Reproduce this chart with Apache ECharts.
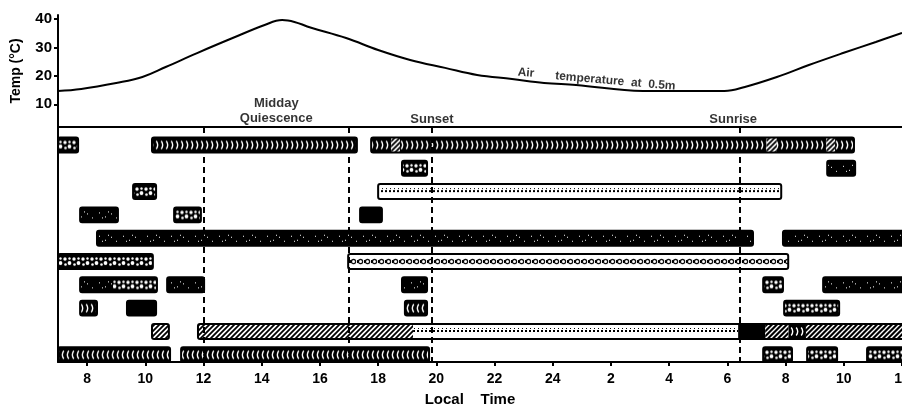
<!DOCTYPE html>
<html>
<head>
<meta charset="utf-8">
<script src="https://cdn.jsdelivr.net/npm/echarts@6/dist/echarts.min.js"></script>
<style>
  html, body { margin: 0; padding: 0; background: #fff; }
  #chart { width: 902px; height: 406px; }
</style>
</head>
<body>
<div id="chart"></div>
<script>
// air temperature at 0.5 m (hours counted from midnight of the first day)
const tempHours = [7.0, 7.8, 9.0, 9.9, 10.7, 11.8, 13.0, 14.1, 14.7, 14.9, 15.7, 16.9, 18.0, 19.1, 20.3, 21.4, 22.6, 23.7, 24.8, 27.1, 29.9, 30.6, 31.7, 32.8, 34.0, 35.1, 36.0]
const tempValues = [14.7, 15.4, 17.5, 19.6, 23.1, 28.1, 33.3, 37.9, 39.6, 39.5, 36.9, 33.3, 29.1, 25.6, 22.8, 20.3, 18.9, 17.5, 16.8, 14.7, 14.7, 16.1, 19.6, 23.8, 28.1, 31.9, 35.1]

const hourTicks = [8, 10, 12, 14, 16, 18, 20, 22, 24, 26, 28, 30, 32, 34, 36]
const tempTicks = [10, 20, 30, 40]

// midday quiescence 12-17, sunset, sunrise
const eventHours = [12, 17, 19.85, 30.43]

// annotations in the temperature panel
const noteHours = [14.5, 19.85, 30.2]
const noteTemps = [7.5, 4.8, 4.8]
const noteTexts = ['Midday\nQuiescence', 'Sunset', 'Sunrise']
const airHours = [23.08, 26.15]
const airTemps = [21.0, 18.1]
const airTexts = ['Air', 'temperature  at  0.5m']

// activity segments: row (0 = top), start hour, end hour, texture
const segRow = [
  0, 0, 0, 0, 0, 0, 0, 0, 0,
  1, 1,
  2, 2,
  3, 3, 3,
  4, 4,
  5, 5,
  6, 6, 6, 6, 6, 6,
  7, 7, 7, 7,
  8, 8, 8, 8, 8, 8, 8,
  9, 9, 9, 9, 9
]
const segStart = [
  7.0, 10.23, 17.76, 18.45, 18.75, 31.35, 31.7, 33.4, 33.7,
  18.82, 33.43,
  9.58, 18.0,
  7.76, 10.99, 17.38,
  8.34, 31.91,
  7.0, 16.97,
  7.76, 8.89, 10.75, 18.82, 31.23, 33.29,
  7.76, 9.37, 18.92, 31.95,
  10.23, 11.81, 19.2, 30.37, 31.3, 32.1, 32.7,
  7.0, 11.23, 31.23, 32.74, 34.8
]
const segEnd = [
  7.69, 17.27, 18.45, 18.75, 31.35, 31.7, 33.4, 33.7, 34.35,
  19.68, 34.39,
  10.37, 31.85,
  9.06, 11.91, 18.13,
  30.88, 36.4,
  10.26, 32.09,
  8.89, 10.4, 12.02, 19.68, 31.91, 36.4,
  8.34, 10.37, 19.68, 33.84,
  10.81, 19.2, 30.37, 31.3, 32.1, 32.7, 36.4,
  10.85, 19.75, 32.22, 33.77, 36.4
]
const segKind = [
  'blotch', 'wave', 'wave', 'hatch', 'wave', 'hatch', 'wave', 'hatch', 'wave',
  'blotch', 'black',
  'blotch', 'dots',
  'black', 'blotch', 'solid',
  'black', 'black',
  'blotch', 'chain',
  'black', 'blotch', 'black', 'black', 'blotch', 'black',
  'wave', 'solid', 'waveL', 'blotch',
  'hatch', 'hatch', 'dots', 'solid', 'hatchW', 'wave', 'hatchW',
  'waveL', 'waveL', 'blotch', 'blotch', 'blotch'
]

// small canvas textures
function tile (w, h, draw) {
  let c = document.createElement('canvas')
  c.width = w
  c.height = h
  draw(c.getContext('2d'))
  return c
}
const tiles = {
  solid: tile(4, 15, g => { g.fillStyle = '#000'; g.fillRect(0, 0, 4, 15) }),
  black: tile(24, 15, g => {
    g.fillStyle = '#000'; g.fillRect(0, 0, 24, 15)
    g.fillStyle = '#fff'
    ;[[3, 5], [9, 9], [15, 6], [20, 10], [12, 4], [6, 10]].forEach(p => g.fillRect(p[0], p[1], 1, 1))
  }),
  wave: tile(5, 15, g => {
    g.fillStyle = '#000'; g.fillRect(0, 0, 5, 15)
    g.strokeStyle = '#fff'; g.lineWidth = 1.4
    g.beginPath(); g.moveTo(1.2, 3.5); g.quadraticCurveTo(4.2, 7.5, 1.2, 11.5); g.stroke()
  }),
  waveL: tile(5, 15, g => {
    g.fillStyle = '#000'; g.fillRect(0, 0, 5, 15)
    g.strokeStyle = '#fff'; g.lineWidth = 1.4
    g.beginPath(); g.moveTo(3.8, 3.5); g.quadraticCurveTo(0.8, 7.5, 3.8, 11.5); g.stroke()
  }),
  hatch: tile(5, 5, g => {
    g.fillStyle = '#fff'; g.fillRect(0, 0, 5, 5)
    g.strokeStyle = '#000'; g.lineWidth = 1.8
    g.beginPath()
    g.moveTo(0, 5); g.lineTo(5, 0)
    g.moveTo(-1, 1); g.lineTo(1, -1)
    g.moveTo(4, 6); g.lineTo(6, 4)
    g.stroke()
  }),
  hatchW: tile(5, 5, g => {
    g.fillStyle = '#000'; g.fillRect(0, 0, 5, 5)
    g.strokeStyle = '#fff'; g.lineWidth = 1.4
    g.beginPath()
    g.moveTo(0, 5); g.lineTo(5, 0)
    g.moveTo(-1, 1); g.lineTo(1, -1)
    g.moveTo(4, 6); g.lineTo(6, 4)
    g.stroke()
  }),
  dots: tile(4, 15, g => {
    g.fillStyle = '#fff'; g.fillRect(0, 0, 4, 15)
    g.fillStyle = '#000'
    g.fillRect(1, 6, 2, 2)
    g.fillRect(2, 4, 1, 1)
  }),
  chain: tile(7, 15, g => {
    g.fillStyle = '#fff'; g.fillRect(0, 0, 7, 15)
    g.strokeStyle = '#000'; g.lineWidth = 1.2
    g.beginPath(); g.arc(3.5, 7.5, 2.1, 0, Math.PI * 2); g.stroke()
    g.fillStyle = '#000'; g.fillRect(0, 6, 1, 3)
  }),
  blotch: tile(9, 15, g => {
    g.fillStyle = '#000'; g.fillRect(0, 0, 9, 15)
    g.fillStyle = '#fff'
    ;[[2, 5, 1.7], [6.5, 9, 1.9], [2.5, 10.5, 1.3], [6.5, 4.5, 1.2]].forEach(p => {
      g.beginPath(); g.arc(p[0], p[1], p[2], 0, Math.PI * 2); g.fill()
    })
  })
}

const fillData = segRow.map((r, i) => [segStart[i], segEnd[i], r, i])
const outlineData = []
segRow.forEach((r, i) => {
  let last = outlineData[outlineData.length - 1]
  if (last && last[2] === r && Math.abs(last[1] - segStart[i]) < 1e-6) last[1] = segEnd[i]
  else outlineData.push([segStart[i], segEnd[i], r])
})

function barRect (api) {
  let p0 = api.coord([api.value(0), api.value(2)])
  let p1 = api.coord([api.value(1), api.value(2)])
  let h = api.size([0, 1])[1] * 0.64
  return { x: p0[0], y: p0[1] - h / 2, width: p1[0] - p0[0], height: h }
}

const boldFont = { fontFamily: 'Liberation Sans', fontWeight: 'bold', color: '#000' }
const hidden = 'rgba(0,0,0,0)'

const chart = echarts.init(document.getElementById('chart'), null, { renderer: 'canvas' })
chart.setOption({
  animation: false,
  backgroundColor: '#fff',
  grid: [
    { left: 58, right: 0, top: 15, height: 112, outerBoundsMode: 'none' },
    { left: 58, right: 0, top: 127, height: 235, outerBoundsMode: 'none' }
  ],
  xAxis: [
    {
      gridIndex: 0, type: 'value', min: 7, max: 36,
      axisLine: { onZero: false, lineStyle: { color: '#000', width: 2 } },
      axisTick: { show: false }, axisLabel: { show: false }, splitLine: { show: false }
    },
    {
      gridIndex: 1, type: 'value', min: 7, max: 36,
      axisLine: { onZero: false, lineStyle: { color: '#000', width: 2 } },
      axisTick: { customValues: hourTicks, length: 4, lineStyle: { color: '#000', width: 2 } },
      axisLabel: {
        customValues: hourTicks, margin: 10, fontSize: 14, ...boldFont,
        formatter: v => String(v > 24 ? v - 24 : v)
      },
      splitLine: { show: false },
      name: 'Local    Time', nameLocation: 'middle', nameGap: 30,
      nameTextStyle: { fontSize: 15, padding: [0, 20, 0, 0], ...boldFont }
    }
  ],
  yAxis: [
    {
      gridIndex: 0, type: 'value', min: 2, max: 41.4,
      axisLine: { show: true, onZero: false, lineStyle: { color: '#000', width: 2 } },
      axisTick: { show: true, customValues: tempTicks, length: 4, lineStyle: { color: '#000', width: 2 } },
      axisLabel: { customValues: tempTicks, margin: 6, fontSize: 15, ...boldFont },
      splitLine: { show: false },
      name: 'Temp (°C)', nameLocation: 'middle', nameGap: 35,
      nameTextStyle: { fontSize: 14, ...boldFont }
    },
    {
      gridIndex: 1, type: 'value', min: -0.77, max: 9.31, inverse: true,
      axisLine: { show: true, onZero: false, lineStyle: { color: '#000', width: 2 } },
      axisTick: { show: false }, axisLabel: { show: false }, splitLine: { show: false }
    }
  ],
  series: [
    {
      name: 'Air temperature', type: 'line', xAxisIndex: 0, yAxisIndex: 0,
      data: tempHours.map((h, i) => [h, tempValues[i]]),
      smooth: 0.4, symbol: 'none',
      lineStyle: { color: '#000', width: 2 }
    },
    {
      name: 'notes', type: 'scatter', xAxisIndex: 0, yAxisIndex: 0,
      symbolSize: 1, itemStyle: { color: hidden },
      data: noteHours.map((h, i) => [h, noteTemps[i], noteTexts[i]]),
      label: {
        show: true, position: 'inside', formatter: p => p.data[2],
        fontSize: 13, lineHeight: 15, align: 'center', ...boldFont
      }
    },
    {
      name: 'air', type: 'scatter', xAxisIndex: 0, yAxisIndex: 0,
      symbolSize: 1, itemStyle: { color: hidden },
      data: airHours.map((h, i) => [h, airTemps[i], airTexts[i]]),
      label: {
        show: true, position: 'inside', formatter: p => p.data[2],
        fontSize: 12, ...boldFont, rotate: -5
      }
    },
    {
      name: 'events', type: 'line', xAxisIndex: 1, yAxisIndex: 1, data: [], z: 1,
      markLine: {
        silent: true, symbol: 'none', label: { show: false },
        lineStyle: { color: '#000', width: 2, type: [6, 4] },
        data: eventHours.map(h => ({ xAxis: h }))
      }
    },
    {
      name: 'fill', type: 'custom', xAxisIndex: 1, yAxisIndex: 1, z: 2, clip: true,
      encode: { x: [0, 1], y: 2 },
      data: fillData,
      renderItem: (params, api) => {
        let r = barRect(api)
        let kind = segKind[api.value(3)]
        return {
          type: 'rect', shape: r,
          style: { fill: { image: tiles[kind], repeat: 'repeat', x: 0, y: r.y } }
        }
      }
    },
    {
      name: 'outline', type: 'custom', xAxisIndex: 1, yAxisIndex: 1, z: 3, clip: true,
      encode: { x: [0, 1], y: 2 },
      data: outlineData,
      renderItem: (params, api) => ({
        type: 'rect', shape: { ...barRect(api), r: 2 },
        style: { fill: 'none', stroke: '#000', lineWidth: 2 }
      })
    }
  ]
})
</script>
</body>
</html>
